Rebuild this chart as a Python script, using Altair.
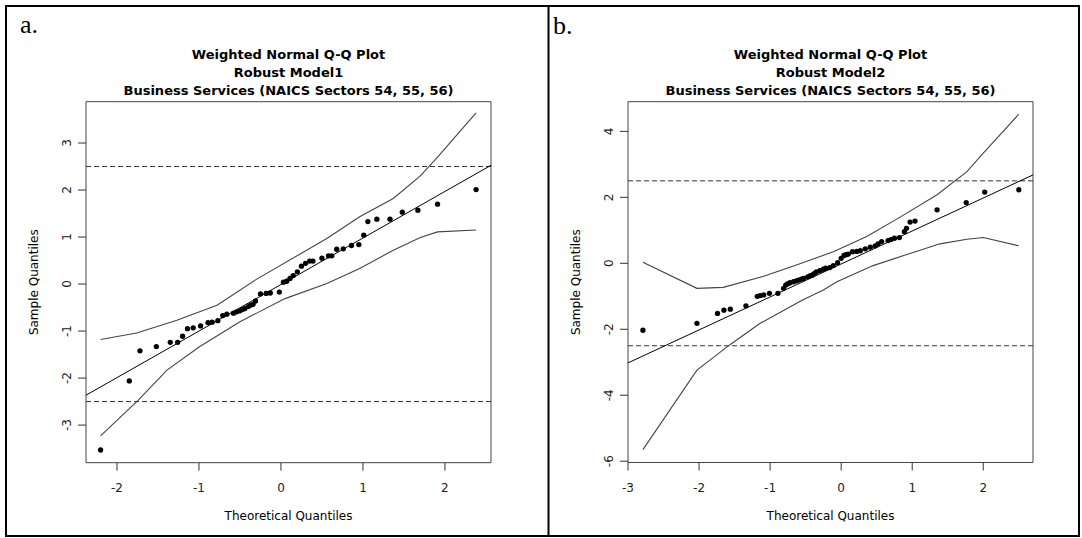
import altair as alt
import pandas as pd

# ---- Panel a: Robust Model1 ----
a_theo = [-2.20, -1.85, -1.72, -1.52, -1.35, -1.26, -1.20, -1.14, -1.07, -0.98,
          -0.89, -0.84, -0.77, -0.71, -0.66, -0.58, -0.54, -0.50, -0.47, -0.44,
          -0.40, -0.37, -0.34, -0.31, -0.25, -0.18, -0.13, -0.02, 0.03, 0.07,
          0.11, 0.15, 0.20, 0.25, 0.30, 0.35, 0.39, 0.50, 0.58, 0.62,
          0.68, 0.76, 0.86, 0.95, 1.01, 1.06, 1.17, 1.33, 1.48, 1.67,
          1.91, 2.38]
a_samp = [-3.53, -2.06, -1.42, -1.33, -1.24, -1.24, -1.11, -0.95, -0.93, -0.89,
          -0.82, -0.81, -0.78, -0.67, -0.64, -0.62, -0.59, -0.57, -0.54, -0.52,
          -0.48, -0.45, -0.43, -0.36, -0.21, -0.20, -0.19, -0.17, 0.04, 0.06,
          0.12, 0.18, 0.26, 0.38, 0.44, 0.49, 0.49, 0.55, 0.60, 0.60,
          0.74, 0.75, 0.82, 0.84, 1.04, 1.33, 1.38, 1.38, 1.53, 1.57,
          1.70, 2.01]
a_upper_x = [-2.20, -1.76, -1.27, -0.78, -0.30, 0.56, 0.96, 1.37, 1.70, 1.91, 2.38]
a_upper_y = [-1.18, -1.04, -0.77, -0.45, 0.10, 0.97, 1.43, 1.82, 2.30, 2.70, 3.64]
a_lower_x = [-2.20, -1.74, -1.39, -0.99, -0.50, 0.05, 0.56, 0.96, 1.37, 1.70, 1.91, 2.38]
a_lower_y = [-3.23, -2.47, -1.83, -1.33, -0.80, -0.31, 0.01, 0.33, 0.72, 0.99, 1.11, 1.15]
a_line = (-0.01, 0.99)  # intercept, slope
a_xticks = [-2, -1, 0, 1, 2]
a_yticks = [-3, -2, -1, 0, 1, 2, 3]
a_xdomain = [-2.378, 2.562]
a_ydomain = [-3.80, 3.879]
a_title = ["Weighted Normal Q-Q Plot", "Robust Model1",
           "Business Services (NAICS Sectors 54, 55, 56)"]

# ---- Panel b: Robust Model2 ----
b_theo = [-2.79, -2.03, -1.74, -1.65, -1.56, -1.34, -1.18, -1.14, -1.09, -1.01,
          -0.89, -0.81, -0.78, -0.75, -0.72, -0.67, -0.63, -0.60, -0.56, -0.53,
          -0.47, -0.44, -0.41, -0.38, -0.35, -0.30, -0.25, -0.22, -0.16, -0.11,
          -0.05, 0.00, 0.04, 0.07, 0.10, 0.16, 0.22, 0.27, 0.34, 0.41,
          0.48, 0.52, 0.57, 0.66, 0.70, 0.75, 0.82, 0.89, 0.92, 0.97,
          1.04, 1.35, 1.76, 2.02, 2.50]
b_samp = [-2.03, -1.82, -1.52, -1.42, -1.39, -1.29, -1.00, -0.98, -0.96, -0.91,
          -0.91, -0.76, -0.66, -0.62, -0.59, -0.56, -0.53, -0.51, -0.48, -0.46,
          -0.41, -0.38, -0.36, -0.31, -0.26, -0.22, -0.18, -0.15, -0.13, -0.07,
          0.02, 0.15, 0.24, 0.26, 0.28, 0.35, 0.36, 0.38, 0.44, 0.49,
          0.53, 0.59, 0.66, 0.69, 0.72, 0.76, 0.78, 0.96, 1.06, 1.25,
          1.28, 1.62, 1.84, 2.16, 2.23]
b_upper_x = [-2.79, -2.03, -1.66, -1.09, -0.60, -0.11, 0.36, 0.83, 1.35, 1.77, 2.00, 2.50]
b_upper_y = [0.03, -0.76, -0.73, -0.39, -0.03, 0.35, 0.81, 1.40, 2.08, 2.78, 3.34, 4.52]
b_lower_x = [-2.79, -2.03, -1.56, -1.14, -0.76, -0.55, -0.25, -0.06, 0.45, 0.97, 1.39, 1.77, 2.00, 2.50]
b_lower_y = [-5.65, -3.24, -2.46, -1.82, -1.37, -1.12, -0.81, -0.56, -0.07, 0.30, 0.59, 0.73, 0.78, 0.53]
b_line = (-0.02, 1.0)
b_xticks = [-3, -2, -1, 0, 1, 2]
b_yticks = [-6, -4, -2, 0, 2, 4]
b_xdomain = [-3.0, 2.70]
b_ydomain = [-6.04, 4.90]
b_title = ["Weighted Normal Q-Q Plot", "Robust Model2",
           "Business Services (NAICS Sectors 54, 55, 56)"]

# horizontal cut-off lines
cutoffs = [-2.5, 2.5]

W, H = 1082, 538
LABEL_FONT = "DejaVu Sans"
LABEL_SIZE = 12
TICK = 8


def qq_panel(theo, samp, ux, uy, lx, ly, line, xdom, ydom, xticks, yticks,
             x_px, y_px):
    xs = alt.Scale(domain=xdom, range=x_px, nice=False, zero=False)
    ys = alt.Scale(domain=ydom, range=y_px, nice=False, zero=False)
    X = lambda f: alt.X(f, scale=xs, axis=None)
    Y = lambda f: alt.Y(f, scale=ys, axis=None)
    left, bottom = x_px[0], y_px[0]

    box_df = pd.DataFrame({"x0": [xdom[0]], "x1": [xdom[1]],
                           "y0": [ydom[0]], "y1": [ydom[1]]})
    box = alt.Chart(box_df).mark_rect(
        fill="transparent", stroke="#444", strokeWidth=1
    ).encode(x=X("x0:Q"), x2="x1:Q", y=Y("y0:Q"), y2="y1:Q")

    # axis ticks and labels, R style (labels parallel to the axis)
    xt_df = pd.DataFrame({"v": xticks, "lab": [str(v) for v in xticks]})
    yt_df = pd.DataFrame({"v": yticks, "lab": [str(v) for v in yticks]})
    xtick = alt.Chart(xt_df).mark_rule(color="#333", strokeWidth=1).encode(
        x=X("v:Q"), y=alt.value(bottom), y2=alt.value(bottom + TICK))
    xlab = alt.Chart(xt_df).mark_text(
        font=LABEL_FONT, fontSize=LABEL_SIZE, color="#222", align="center",
        baseline="middle").encode(x=X("v:Q"), y=alt.value(bottom + 25),
                                  text="lab:N")
    ytick = alt.Chart(yt_df).mark_rule(color="#333", strokeWidth=1).encode(
        y=Y("v:Q"), x=alt.value(left - TICK), x2=alt.value(left))
    ylab = alt.Chart(yt_df).mark_text(
        font=LABEL_FONT, fontSize=LABEL_SIZE, color="#222", align="center",
        baseline="middle", angle=270).encode(y=Y("v:Q"),
                                             x=alt.value(left - 19),
                                             text="lab:N")

    ref_df = pd.DataFrame({"y": cutoffs, "x0": xdom[0], "x1": xdom[1]})
    ref = alt.Chart(ref_df).mark_rule(
        color="#333", strokeWidth=1, strokeDash=[5, 3]
    ).encode(x=X("x0:Q"), x2="x1:Q", y=Y("y:Q"))

    env_df = pd.concat([
        pd.DataFrame({"x": ux, "y": uy, "band": "upper"}),
        pd.DataFrame({"x": lx, "y": ly, "band": "lower"}),
    ], ignore_index=True)
    env = alt.Chart(env_df).mark_line(color="#444", strokeWidth=1.1).encode(
        x=X("x:Q"), y=Y("y:Q"), detail="band:N", order="x:Q")

    icpt, slope = line
    fit_df = pd.DataFrame({"x": xdom, "y": [icpt + slope * v for v in xdom]})
    fit = alt.Chart(fit_df).mark_line(color="black", strokeWidth=1).encode(
        x=X("x:Q"), y=Y("y:Q"))

    pts_df = pd.DataFrame({"x": theo, "y": samp})
    pts = alt.Chart(pts_df).mark_circle(size=28, color="black", opacity=1).encode(
        x=X("x:Q"), y=Y("y:Q"))
    return alt.layer(box, xtick, xlab, ytick, ylab, ref, env, fit, pts)


panel_a = qq_panel(a_theo, a_samp, a_upper_x, a_upper_y, a_lower_x, a_lower_y,
                   a_line, a_xdomain, a_ydomain, a_xticks, a_yticks,
                   [86, 491], [462.7, 101.7])
panel_b = qq_panel(b_theo, b_samp, b_upper_x, b_upper_y, b_lower_x, b_lower_y,
                   b_line, b_xdomain, b_ydomain, b_xticks, b_yticks,
                   [628, 1033], [462.5, 101.7])

one = pd.DataFrame({"k": [0]})


def text_at(txt, x, y, size, weight="normal", font=LABEL_FONT, align="center",
            angle=0, baseline="alphabetic"):
    return alt.Chart(one).mark_text(
        text=txt, font=font, fontSize=size, fontWeight=weight, color="black",
        align=align, baseline=baseline, angle=angle,
    ).encode(x=alt.value(x), y=alt.value(y))


text_layers = []
for lines, cx in [(a_title, 288.5), (b_title, 830.5)]:
    for i, ln in enumerate(lines):
        text_layers.append(text_at(ln, cx, 58.7 + 18.3 * i, 13, weight="bold"))

# axis titles
for cx, left in [(288.5, 86), (830.5, 628)]:
    text_layers.append(text_at("Theoretical Quantiles", cx, 516, LABEL_SIZE,
                               baseline="middle"))
    text_layers.append(text_at("Sample Quantiles", left - 52, 282.2, LABEL_SIZE,
                               baseline="middle", angle=270))

tags = [
    text_at("a.", 20, 32.5, 26, font="Liberation Serif", align="left"),
    text_at("b.", 553, 33.5, 26, font="Liberation Serif", align="left"),
]

# outer frame and divider between the two panels
frame = alt.Chart(one).mark_rect(
    fill="transparent", stroke="black", strokeWidth=2
).encode(x=alt.value(6), x2=alt.value(1079), y=alt.value(6), y2=alt.value(536))
divider = alt.Chart(one).mark_rule(color="black", strokeWidth=2).encode(
    x=alt.value(548.5), y=alt.value(6), y2=alt.value(536)
)

chart = alt.layer(
    panel_a, panel_b, *text_layers, *tags, frame, divider
).resolve_scale(
    x="independent", y="independent"
).properties(
    width=W, height=H, padding=0, background="white",
    autosize=alt.AutoSizeParams(type="none"),
).configure_view(strokeWidth=0)

chart.save("out.html", embed_options={"renderer": "svg", "actions": False})
